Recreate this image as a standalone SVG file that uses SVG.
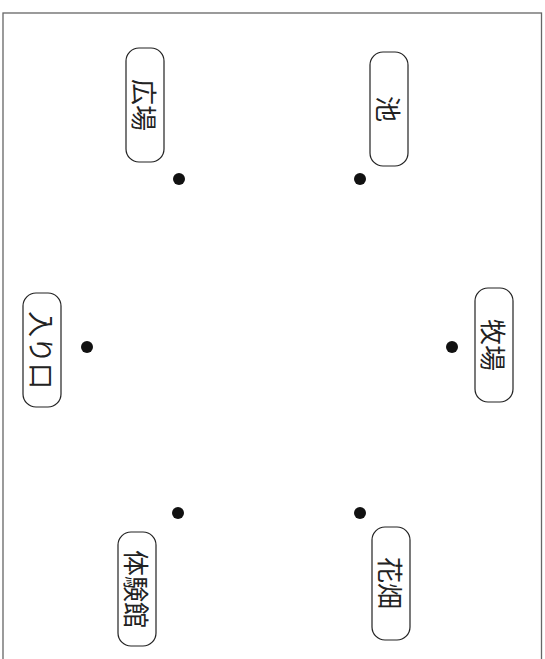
<svg xmlns="http://www.w3.org/2000/svg" width="545" height="659" viewBox="0 0 545 659">
<style>
.frame{fill:none;stroke:#666;stroke-width:1.3}
.box{fill:#fff;stroke:#222;stroke-width:1.2}
.lbl{font-family:"Noto Sans CJK JP","Noto Sans CJK SC",sans-serif;font-size:26px;fill:#222;text-anchor:middle;dominant-baseline:central}
.dot{fill:#111}
</style>
<rect class="frame" x="3" y="13" width="538.5" height="660"/>
<g id="connectors"></g>
<g id="hiroba">
<rect class="box" x="126" y="48" width="38" height="114" rx="13"/>
<text class="lbl" transform="translate(145,105) rotate(90)">広場</text>
<circle class="dot" cx="179" cy="179" r="6"/>
</g>
<g id="ike">
<rect class="box" x="370" y="52" width="38" height="114" rx="13"/>
<text class="lbl" transform="translate(389,109) rotate(90)">池</text>
<circle class="dot" cx="360" cy="179" r="6"/>
</g>
<g id="iriguchi">
<rect class="box" x="23" y="293" width="38" height="114" rx="13"/>
<text class="lbl" transform="translate(42,350) rotate(90)">入り口</text>
<circle class="dot" cx="87" cy="347" r="6"/>
</g>
<g id="bokujo">
<rect class="box" x="475" y="288" width="38" height="114" rx="13"/>
<text class="lbl" transform="translate(494,345) rotate(90)">牧場</text>
<circle class="dot" cx="452" cy="347" r="6"/>
</g>
<g id="taikenkan">
<rect class="box" x="118" y="532" width="38" height="114" rx="13"/>
<text class="lbl" transform="translate(137,589) rotate(90)">体験館</text>
<circle class="dot" cx="178" cy="513" r="6"/>
</g>
<g id="hanabatake">
<rect class="box" x="372" y="527" width="38" height="113" rx="13"/>
<text class="lbl" transform="translate(391,583) rotate(90)">花畑</text>
<circle class="dot" cx="360" cy="513" r="6"/>
</g>
</svg>
